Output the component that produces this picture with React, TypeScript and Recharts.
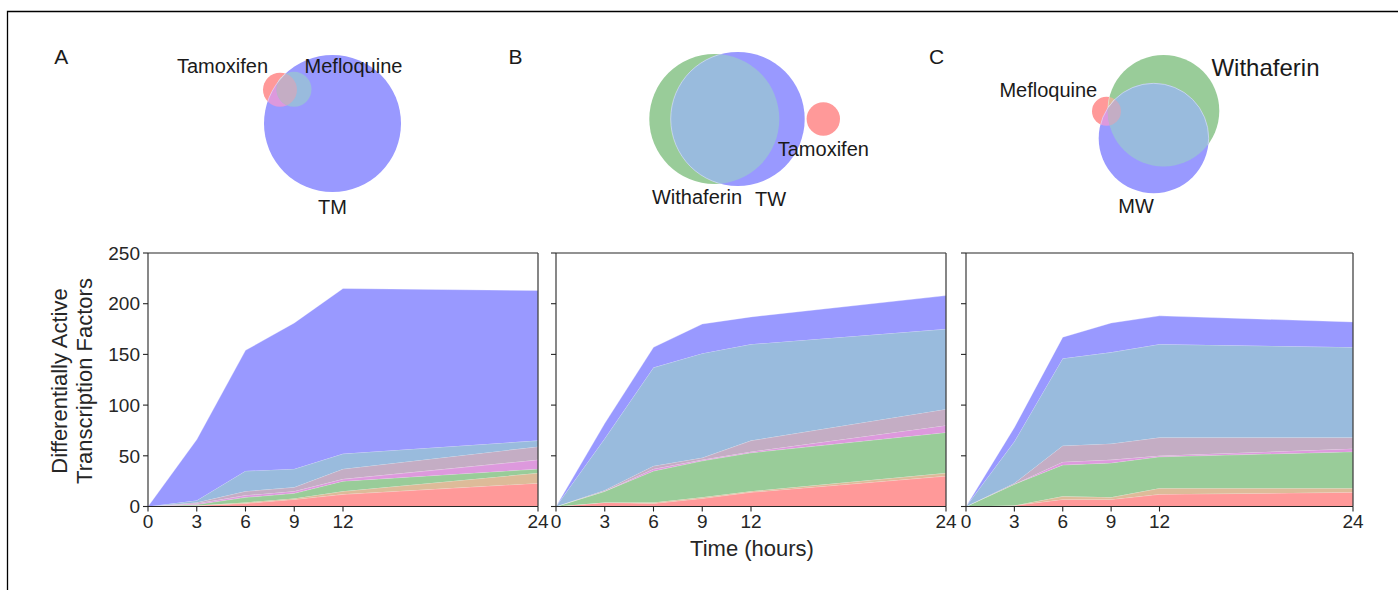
import React from 'react';
import { AreaChart, Area, XAxis, YAxis, ReferenceLine, ScatterChart, Scatter } from 'recharts';

const FONT = "'Liberation Sans', Arial, Helvetica, sans-serif";
const INK = '#262626';

// ---------- data ----------
const hours = [0, 3, 6, 9, 12, 24];
const xTicks = [0, 3, 6, 9, 12, 24];
const yTicks = [0, 50, 100, 150, 200, 250];

// region layers (bottom -> top): 100 red, 110 tan, 010 green, 101 pink, 111 mauve, 011 light blue, 001 blue
const layerKeys = ['r100', 'r110', 'r010', 'r101', 'r111', 'r011', 'r001'];

// Panel A: Tamoxifen / Mefloquine / TM
const aR100 = [0, 1, 3, 7, 12, 23];
const aR110 = [0, 0, 1, 1, 3, 10];
const aR010 = [0, 1, 5, 5, 10, 4];
const aR101 = [0, 1, 2, 2, 2, 9];
const aR111 = [0, 1, 4, 4, 10, 13];
const aR011 = [0, 2, 20, 18, 15, 6];
const aR001 = [0, 60, 119, 144, 163, 148];

// Panel B: Tamoxifen / Withaferin / TW
const bR100 = [0, 4, 3, 8, 14, 30];
const bR110 = [0, 0, 1, 1, 1, 3];
const bR010 = [0, 11, 31, 36, 38, 40];
const bR101 = [0, 0, 2, 1, 1, 7];
const bR111 = [0, 1, 3, 2, 11, 16];
const bR011 = [0, 51, 97, 103, 95, 79];
const bR001 = [0, 15, 20, 29, 27, 33];

// Panel C: Mefloquine / Withaferin / MW
const cR100 = [0, 1, 7, 7, 12, 14];
const cR110 = [0, 0, 3, 2, 6, 4];
const cR010 = [0, 21, 31, 34, 31, 36];
const cR101 = [0, 0, 3, 3, 1, 3];
const cR111 = [0, 1, 16, 16, 18, 11];
const cR011 = [0, 41, 86, 90, 92, 89];
const cR001 = [0, 14, 21, 29, 28, 25];

// Venn layouts (x, y in page pixels of the top strip; r in pixels)
const vennCircles = [
  { panel: 'A', idx: 0, x: 280, y: 89.7, r: 17 },
  { panel: 'A', idx: 1, x: 294, y: 89.3, r: 17.5 },
  { panel: 'A', idx: 2, x: 332.5, y: 123.5, r: 68.5 },
  { panel: 'B', idx: 0, x: 823.3, y: 119, r: 16.7 },
  { panel: 'B', idx: 1, x: 714.3, y: 119, r: 65 },
  { panel: 'B', idx: 2, x: 737.7, y: 119, r: 67 },
  { panel: 'C', idx: 0, x: 1106.5, y: 111.3, r: 14.5 },
  { panel: 'C', idx: 1, x: 1163.5, y: 110.8, r: 55.8 },
  { panel: 'C', idx: 2, x: 1153.7, y: 138.3, r: 55 },
];

const vennLabels = [
  { x: 222.5, y: 73, text: 'Tamoxifen', size: 20 },
  { x: 353.5, y: 73, text: 'Mefloquine', size: 20 },
  { x: 332.5, y: 213.5, text: 'TM', size: 20 },
  { x: 823.3, y: 155.5, text: 'Tamoxifen', size: 20 },
  { x: 697, y: 204, text: 'Withaferin', size: 20 },
  { x: 770.5, y: 205.5, text: 'TW', size: 20 },
  { x: 1048.3, y: 96.7, text: 'Mefloquine', size: 20 },
  { x: 1136, y: 213.3, text: 'MW', size: 20 },
  { x: 1265.5, y: 76, text: 'Withaferin', size: 24 },
];

// ---------- styles ----------
const layerColors: Record<string, string> = {
  r100: '#ff9999',
  r110: '#ddbb99',
  r010: '#99cc99',
  r101: '#dd99dd',
  r111: '#c4adc4',
  r011: '#99bbdd',
  r001: '#9999ff',
};
const SOLO = [layerColors.r100, layerColors.r010, layerColors.r001];
const PAIR: Record<string, string> = { '01': layerColors.r110, '02': layerColors.r101, '12': layerColors.r011 };
const TRIPLE = layerColors.r111;

function buildRows(layers: number[][]) {
  return hours.map((t, i) => {
    const row: Record<string, number> = { t };
    layerKeys.forEach((k, j) => {
      row[k] = layers[j][i];
    });
    return row;
  });
}

const rowsA = buildRows([aR100, aR110, aR010, aR101, aR111, aR011, aR001]);
const rowsB = buildRows([bR100, bR110, bR010, bR101, bR111, bR011, bR001]);
const rowsC = buildRows([cR100, cR110, cR010, cR101, cR111, cR011, cR001]);

const PLOT_TOP = 252.5;
const PLOT_H = 253.5;
const YW = 60;
const MT = 14;
const MR = 16;
const XH = 40;

const panelDefs = [
  { id: 'A', rows: rowsA, left: 147.5, width: 390, showY: true },
  { id: 'B', rows: rowsB, left: 556, width: 390, showY: false },
  { id: 'C', rows: rowsC, left: 965.5, width: 387, showY: false },
];

const tickStyle = { fontSize: 19, fill: INK, fontFamily: FONT };

function StackPanel({ def }: { def: any }) {
  return (
    <div style={{ position: 'absolute', left: def.left - YW, top: PLOT_TOP - MT }}>
      <AreaChart
        width={YW + def.width + MR}
        height={MT + PLOT_H + XH}
        data={def.rows}
        margin={{ top: MT, right: MR, left: 0, bottom: 0 }}
      >
        <XAxis
          type="number"
          dataKey="t"
          domain={[0, 24]}
          ticks={xTicks}
          interval={0}
          height={XH}
          tick={tickStyle}
          tickSize={5}
          tickMargin={3}
          axisLine={{ stroke: INK, strokeWidth: 1.1 }}
          tickLine={{ stroke: INK, strokeWidth: 1.1 }}
        />
        <YAxis
          type="number"
          domain={[0, 250]}
          ticks={yTicks}
          interval={0}
          width={YW}
          tick={tickStyle}
          tickSize={5}
          tickMargin={3}
          tickFormatter={def.showY ? undefined : () => ''}
          axisLine={{ stroke: INK, strokeWidth: 1.1 }}
          tickLine={{ stroke: INK, strokeWidth: 1.1 }}
        />
        {layerKeys.map((k) => (
          <Area
            key={k}
            type="linear"
            dataKey={k}
            stackId="s"
            fill={layerColors[k]}
            fillOpacity={1}
            stroke="#ffffff"
            strokeOpacity={0.45}
            strokeWidth={0.7}
            isAnimationActive={false}
            dot={false}
            activeDot={false}
          />
        ))}
        <ReferenceLine y={250} stroke={INK} strokeWidth={1.1} />
        <ReferenceLine x={24} stroke="#444" strokeWidth={1.3} />
      </AreaChart>
    </div>
  );
}

const VennShape = (props: any) => {
  const { cx, cy, payload } = props;
  if (cx == null || cy == null) return <g />;
  const p = payload;
  const group = vennCircles.filter((c) => c.panel === p.panel);
  const at = (c: any) => ({ x: cx + (c.x - p.x), y: cy + (c.y - p.y), r: c.r });
  const me = at(p);
  const id = (j: number) => `venn-${p.panel}-${j}`;
  const i = p.idx;
  const edge = { stroke: '#ffffff', strokeOpacity: 0.55, strokeWidth: 0.8 };
  return (
    <g>
      <defs>
        <clipPath id={id(i)}>
          <circle cx={me.x} cy={me.y} r={me.r} />
        </clipPath>
      </defs>
      <circle cx={me.x} cy={me.y} r={me.r} fill={SOLO[i]} />
      {group
        .filter((c) => c.idx < i)
        .map((c) => (
          <circle
            key={c.idx}
            cx={me.x}
            cy={me.y}
            r={me.r}
            fill={PAIR[`${c.idx}${i}`]}
            clipPath={`url(#${id(c.idx)})`}
            {...edge}
          />
        ))}
      {i === 2 && (
        <g clipPath={`url(#${id(0)})`}>
          <circle cx={me.x} cy={me.y} r={me.r} fill={TRIPLE} clipPath={`url(#${id(1)})`} {...edge} />
        </g>
      )}
    </g>
  );
};

const LabelShape = (props: any) => {
  const { cx, cy, payload } = props;
  if (cx == null || cy == null) return <g />;
  return (
    <text x={cx} y={cy} textAnchor="middle" fontSize={payload.size} fontFamily={FONT} fill="#1a1a1a">
      {payload.text}
    </text>
  );
};

function VennStrip() {
  return (
    <div style={{ position: 'absolute', left: 0, top: 0 }}>
      <ScatterChart width={1398} height={240} margin={{ top: 0, right: 0, bottom: 0, left: 0 }}>
        <XAxis type="number" dataKey="x" domain={[0, 1398]} hide />
        <YAxis type="number" dataKey="y" domain={[0, 240]} reversed hide />
        <Scatter data={vennCircles} shape={VennShape} isAnimationActive={false} />
        <Scatter data={vennLabels} shape={LabelShape} isAnimationActive={false} />
      </ScatterChart>
    </div>
  );
}

export default function App() {
  return (
    <div
      style={{
        position: 'absolute',
        left: 0,
        top: 0,
        width: 1398,
        height: 590,
        background: '#ffffff',
        overflow: 'hidden',
        fontFamily: FONT,
      }}
    >
      <svg width={1398} height={590} style={{ position: 'absolute', left: 0, top: 0 }}>
        <path d="M7.5 590 V11.5 H1398" fill="none" stroke="#000" strokeWidth={1.3} />
        <text x={61.3} y={64} textAnchor="middle" fontSize={21} fontFamily={FONT} fill="#1a1a1a">A</text>
        <text x={515.5} y={64} textAnchor="middle" fontSize={21} fontFamily={FONT} fill="#1a1a1a">B</text>
        <text x={936.5} y={64} textAnchor="middle" fontSize={21} fontFamily={FONT} fill="#1a1a1a">C</text>
        <text x={752} y={556} textAnchor="middle" fontSize={22} fontFamily={FONT} fill={INK}>Time (hours)</text>
        <text
          transform="translate(67 381) rotate(-90)"
          textAnchor="middle"
          fontSize={22}
          fontFamily={FONT}
          fill={INK}
        >
          Differentially Active
        </text>
        <text
          transform="translate(92 381) rotate(-90)"
          textAnchor="middle"
          fontSize={22}
          fontFamily={FONT}
          fill={INK}
        >
          Transcription Factors
        </text>
      </svg>
      <VennStrip />
      {panelDefs.map((d) => (
        <StackPanel key={d.id} def={d} />
      ))}
    </div>
  );
}
